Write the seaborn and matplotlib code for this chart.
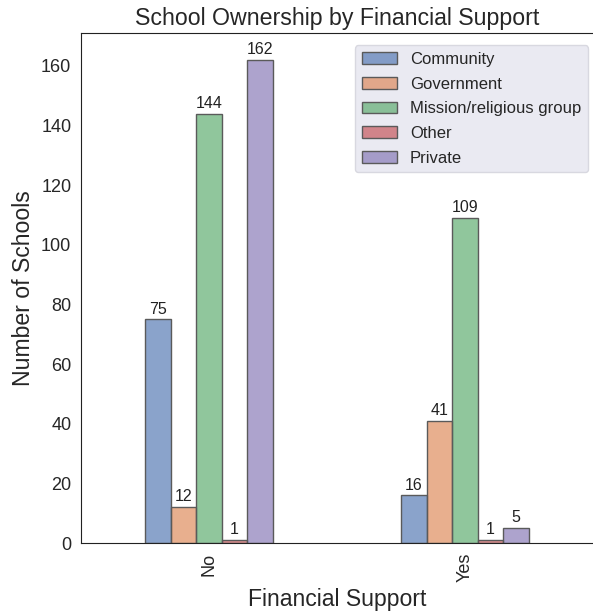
import matplotlib
matplotlib.use("Agg")
import matplotlib.pyplot as plt
import seaborn as sns
import pandas as pd

# data
support = ["No", "Yes"]
ownership = ["Community", "Government", "Mission/religious group", "Other", "Private"]
counts_no = [75, 12, 144, 1, 162]
counts_yes = [16, 41, 109, 1, 5]

rows = []
for s, vals in zip(support, [counts_no, counts_yes]):
    for o, v in zip(ownership, vals):
        rows.append({"Financial Support": s, "Ownership": o, "Count": v})
df = pd.DataFrame(rows)

sns.set_style("white")
plt.rcParams["font.family"] = ["Liberation Sans", "DejaVu Sans"]

# deep palette, faces made semi-transparent but edges kept solid
colors = [(r, g, b, 0.65) for r, g, b in sns.color_palette("deep", len(ownership))]

fig = plt.figure(figsize=(5.93, 6.15), dpi=100)
ax = fig.add_axes([81 / 593, 1 - 543 / 615, 512 / 593, 510 / 615])

sns.barplot(data=df, x="Financial Support", y="Count", hue="Ownership",
            hue_order=ownership, palette=colors, width=0.5, saturation=1,
            edgecolor="#5a5a5a", linewidth=1, ax=ax)

for c in ax.containers:
    ax.bar_label(c, fmt="%d", padding=2, fontsize=11.5, color="#222222")

ax.set_xlim(-0.5, 1.5)
ax.set_ylim(0, 171)
ax.set_title("School Ownership by Financial Support", fontsize=16.7)
ax.set_xlabel("Financial Support", fontsize=16.6)
ax.set_ylabel("Number of Schools", fontsize=16.6)
ax.tick_params(axis="x", labelrotation=90, labelsize=13)
ax.tick_params(axis="y", labelsize=13)
ax.spines["right"].set_visible(False)
for side in ["top", "bottom", "left"]:
    ax.spines[side].set_color("#222222")

leg = ax.legend(loc="upper right", bbox_to_anchor=(0.99, 0.976), borderaxespad=0,
                fontsize=12, title=None, facecolor="#EAEAF2", edgecolor="#d8d8e0",
                framealpha=1, labelspacing=0.58, handlelength=2.1)

fig.savefig("out.png", dpi=100)
